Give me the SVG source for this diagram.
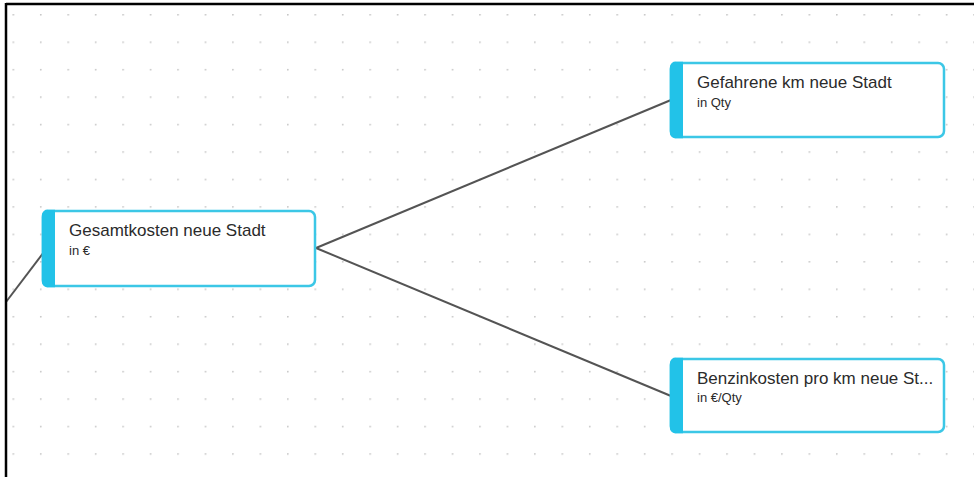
<svg xmlns="http://www.w3.org/2000/svg" width="974" height="477" viewBox="0 0 974 477">
  <defs>
    <pattern id="dots" x="12.5" y="14" width="27.45" height="27.45" patternUnits="userSpaceOnUse">
      <circle cx="0.8" cy="0.8" r="0.9" fill="#c4c4c4"/>
    </pattern>
    <style>
      .box { fill: #ffffff; stroke: #3cc7e6; stroke-width: 2.5; }
      .bar { fill: #22c2e8; }
      .t1 { font-family: "Liberation Sans", Arial, sans-serif; font-size: 17px; fill: #2b2b2b; }
      .t2 { font-family: "Liberation Sans", Arial, sans-serif; font-size: 13px; fill: #2b2b2b; }
      .edge { stroke: #545454; stroke-width: 2; fill: none; }
    </style>
  </defs>
  <rect x="0" y="0" width="974" height="477" fill="#ffffff"/>
  <rect x="6" y="4" width="968" height="473" fill="url(#dots)"/>
  <g id="connectors">
    <line class="edge" x1="316" y1="248" x2="671" y2="100"/>
    <line class="edge" x1="316" y1="248" x2="671" y2="396"/>
    <line class="edge" x1="47" y1="248" x2="6" y2="302"/>
  </g>
  <g id="node-gesamtkosten">
    <rect class="box" x="43" y="211" width="272" height="75" rx="6"/>
    <path class="bar" d="M49,209.75 H55 V287.25 H49 A6,6 0 0 1 41.75,281 V216 A6,6 0 0 1 49,209.75 Z"/>
    <text class="t1" x="69" y="236">Gesamtkosten neue Stadt</text>
    <text class="t2" x="69" y="255">in €</text>
  </g>
  <g id="node-gefahrene-km">
    <rect class="box" x="671" y="63" width="273" height="74" rx="6"/>
    <path class="bar" d="M677,61.75 H683 V138.25 H677 A6,6 0 0 1 669.75,132 V68 A6,6 0 0 1 677,61.75 Z"/>
    <text class="t1" x="697" y="88">Gefahrene km neue Stadt</text>
    <text class="t2" x="697" y="107">in Qty</text>
  </g>
  <g id="node-benzinkosten">
    <rect class="box" x="671" y="359" width="273" height="73" rx="6"/>
    <path class="bar" d="M677,357.75 H683 V433.25 H677 A6,6 0 0 1 669.75,427 V364 A6,6 0 0 1 677,357.75 Z"/>
    <text class="t1" x="697" y="384">Benzinkosten pro km neue St...</text>
    <text class="t2" x="697" y="402">in €/Qty</text>
  </g>
  <g id="frame">
    <line x1="6" y1="4" x2="974" y2="4" stroke="#000000" stroke-width="2.5"/>
    <line x1="6" y1="3" x2="6" y2="477" stroke="#000000" stroke-width="2.5"/>
  </g>
</svg>
